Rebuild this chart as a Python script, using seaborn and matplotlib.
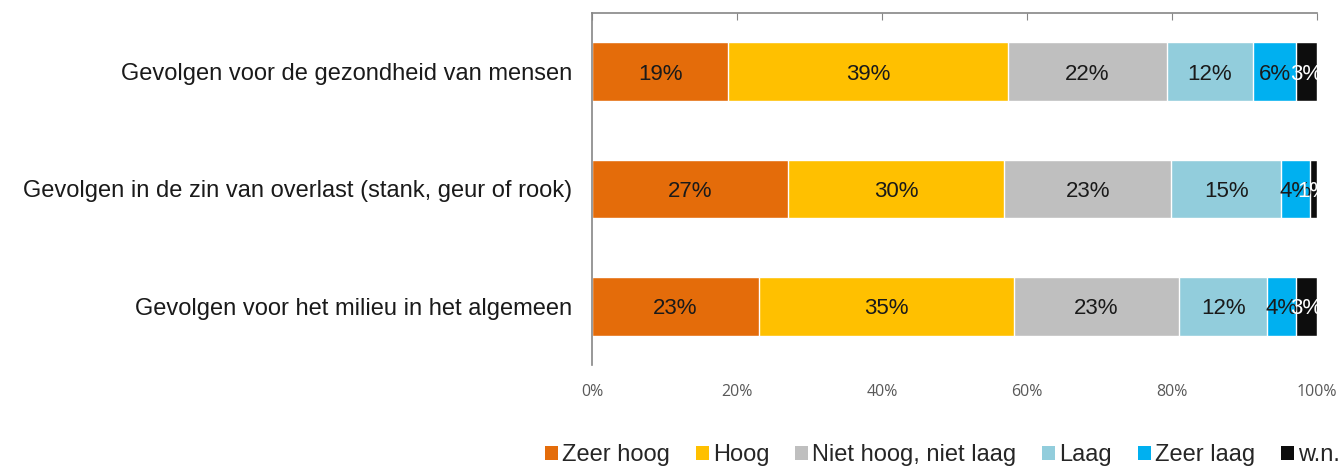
import matplotlib
matplotlib.use('Agg')
import matplotlib.pyplot as plt
import seaborn as sns
import numpy as np
import pandas as pd
from matplotlib.patches import Patch

# data (percentages)
categories = [
    'Gevolgen voor de gezondheid van mensen',
    'Gevolgen in de zin van overlast (stank, geur of rook)',
    'Gevolgen voor het milieu in het algemeen',
]
answers = ['Zeer hoog', 'Hoog', 'Niet hoog, niet laag', 'Laag', 'Zeer laag', 'w.n.']
zeer_hoog = [18.8, 27.0, 23.0]
hoog = [38.6, 29.9, 35.2]
niet_hoog_niet_laag = [21.9, 23.0, 22.8]
laag = [11.9, 15.2, 12.1]
zeer_laag = [5.9, 3.9, 4.0]
weet_niet = [2.9, 1.0, 2.9]
x_ticks = [0, 20, 40, 60, 80, 100]
x_tick_labels = ['0%', '20%', '40%', '60%', '80%', '100%']

colors = ['#E46C0A', '#FFC000', '#BFBFBF', '#92CDDC', '#00B0F0', '#0D0D0D']
label_colors = ['#1a1a1a'] * 5 + ['white']

series = [zeer_hoog, hoog, niet_hoog_niet_laag, laag, zeer_laag, weet_niet]
df = pd.DataFrame({name: vals for name, vals in zip(answers, series)})
df['category'] = categories
cum = df[answers].cumsum(axis=1)

sns.set_style('white')
plt.rcParams['font.family'] = ['Liberation Sans', 'DejaVu Sans']

fig = plt.figure(figsize=(13.43, 4.72), dpi=100)
ax = fig.add_axes([0.4408, 0.2267, 0.5398, 0.7458])

# stacked bars: draw cumulative totals from the last segment back to the first
for i in range(len(answers) - 1, -1, -1):
    plot_df = pd.DataFrame({'category': categories, 'value': cum[answers[i]]})
    sns.barplot(data=plot_df, x='value', y='category', color=colors[i],
                width=0.5, saturation=1, ax=ax, orient='h')

# segment labels
for i, name in enumerate(answers):
    for j in range(len(categories)):
        val = df[name][j]
        centre = cum[name][j] - val / 2
        ax.text(centre, j, f'{round(val):d}%', ha='center', va='center_baseline',
                fontsize=16, color=label_colors[i])

ax.set_xlim(0, 100)
ax.set_ylim(2.5, -0.5)
ax.set_xlabel('')
ax.set_ylabel('')
ax.set_xticks(x_ticks)
ax.set_xticklabels(x_tick_labels, fontsize=11.5, color='#595959', family='Open Sans')
ax.tick_params(axis='x', top=True, bottom=False, labelbottom=True,
               direction='in', length=5, color='#868686', pad=14)
ax.tick_params(axis='y', left=False, labelsize=17, labelcolor='#1a1a1a', pad=11)

for side in ['bottom', 'right']:
    ax.spines[side].set_visible(False)
for side in ['top', 'left']:
    ax.spines[side].set_visible(True)
    ax.spines[side].set_color('#868686')
    ax.spines[side].set_linewidth(1.2)

handles = [Patch(facecolor=c, edgecolor='none', label=a) for c, a in zip(colors, answers)]
fig.legend(handles=handles, loc='center', bbox_to_anchor=(0.7018, 0.036), ncol=6,
           frameon=False, fontsize=17, handlelength=0.55, handleheight=0.55,
           handletextpad=0.17, columnspacing=1.1, borderpad=0, borderaxespad=0)

plt.savefig('out.png', dpi=100)
